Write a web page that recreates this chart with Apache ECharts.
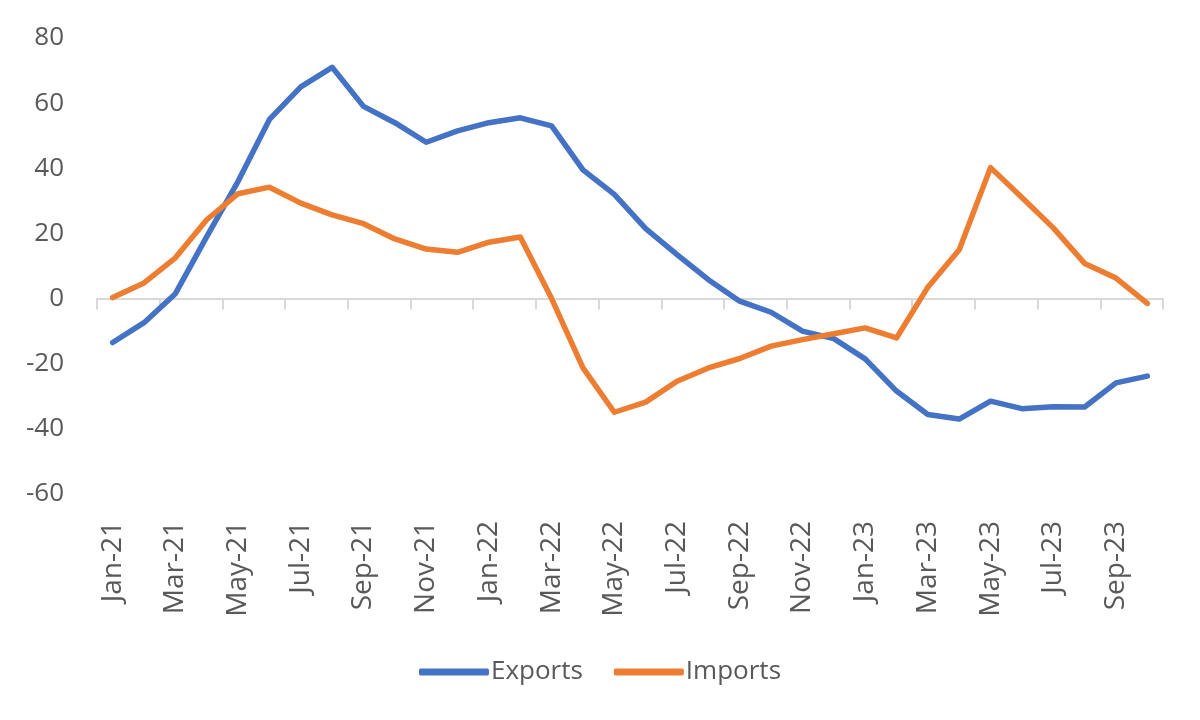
<!DOCTYPE html>
<html>
<head>
<meta charset="utf-8">
<script src="https://cdn.jsdelivr.net/npm/echarts@6/dist/echarts.min.js"></script>
<style>html,body{margin:0;padding:0;background:#fff;}#chart{width:1200px;height:720px;}</style>
</head>
<body>
<div id="chart"></div>
<script>
const categories = ["Jan-21","Feb-21","Mar-21","Apr-21","May-21","Jun-21","Jul-21","Aug-21","Sep-21","Oct-21","Nov-21","Dec-21",
  "Jan-22","Feb-22","Mar-22","Apr-22","May-22","Jun-22","Jul-22","Aug-22","Sep-22","Oct-22","Nov-22","Dec-22",
  "Jan-23","Feb-23","Mar-23","Apr-23","May-23","Jun-23","Jul-23","Aug-23","Sep-23","Oct-23"];
const exportsData = [-13.5,-7.4,1.5,19,36,55,65,71,59,54,48,51.5,
  54,55.5,53,39.5,32,21.5,13.5,5.8,-0.8,-4.2,-10,-12.3,
  -18.5,-28.4,-35.6,-37,-31.5,-33.8,-33.2,-33.3,-25.9,-23.8];
const importsData = [0.3,4.8,12.5,24.2,32.2,34.2,29.3,25.7,23,18.3,15.2,14.2,
  17.3,18.9,0,-21.3,-34.9,-31.8,-25.4,-21.3,-18.4,-14.6,-12.6,-10.8,
  -9,-12.1,3.5,15,40.2,31,21.7,10.8,6.3,-1.5];
const yTicks = {min:-60, max:80, interval:20};

const FONT = '"Open Sans", "Noto Sans", sans-serif';
const TXT = '#595959';
const chart = echarts.init(document.getElementById('chart'), null, {renderer:'canvas'});
chart.setOption({
  animation:false,
  backgroundColor:'#ffffff',
  grid:{left:97, right:37, top:38, bottom:226, containLabel:false},
  legend:{
    data:['Exports','Imports'], bottom:30, left:'center',
    icon:'roundRect', itemWidth:70, itemHeight:7, itemGap:31,
    textStyle:{fontFamily:FONT, fontSize:26, color:TXT, padding:[0,0,0,-3]}
  },
  xAxis:[{
    type:'category', data:categories, boundaryGap:true,
    axisLine:{show:false, onZero:false}, axisTick:{show:false},
    axisLabel:{interval:1, rotate:90, margin:27, fontFamily:FONT, fontSize:28, color:TXT},
    splitLine:{show:false}
  },{
    type:'category', data:categories, boundaryGap:true, position:'bottom',
    axisLine:{show:true, onZero:true, lineStyle:{color:'#d9d9d9', width:2}},
    axisTick:{show:true, interval:1, length:11, lineStyle:{color:'#d9d9d9', width:2}},
    axisLabel:{show:false}, splitLine:{show:false}
  }],
  yAxis:{
    type:'value', min:yTicks.min, max:yTicks.max, interval:yTicks.interval,
    axisLine:{show:false}, axisTick:{show:false}, splitLine:{show:false},
    axisLabel:{margin:33, fontFamily:FONT, fontSize:26, color:TXT}
  },
  series:[
    {name:'Exports', type:'line', data:exportsData, xAxisIndex:0, symbol:'none', color:'#4472C4',
      itemStyle:{color:'#4472C4'},
      lineStyle:{width:5.5, color:'#4472C4', cap:'round', join:'round'}, z:3},
    {name:'Imports', type:'line', data:importsData, xAxisIndex:0, symbol:'none', color:'#ED7D31',
      itemStyle:{color:'#ED7D31'},
      lineStyle:{width:5.5, color:'#ED7D31', cap:'round', join:'round'}, z:4}
  ]
});
</script>
</body>
</html>
